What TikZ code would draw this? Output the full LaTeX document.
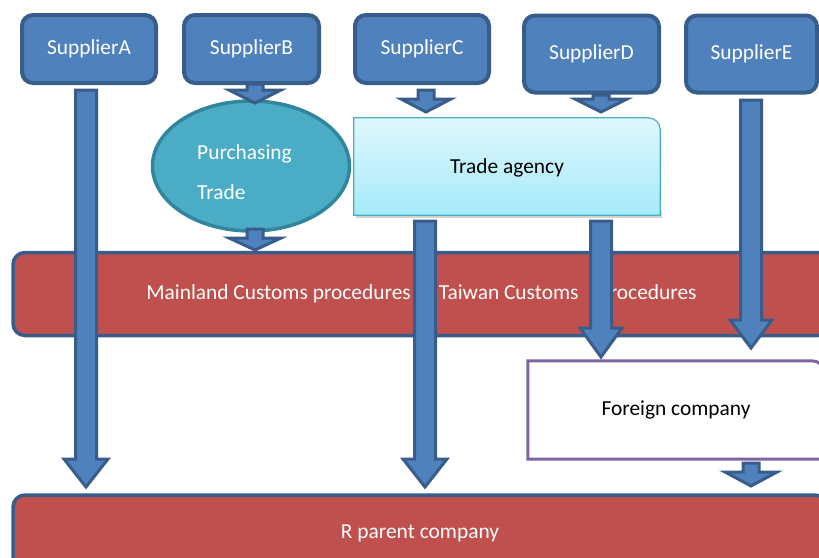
\documentclass[tikz,border=0pt]{standalone}
\usepackage{fontspec}
\setmainfont{Carlito}
\usetikzlibrary{shapes.geometric,calc}
\definecolor{supfill}{HTML}{4F81BD}
\definecolor{supline}{HTML}{385D8A}
\definecolor{ellfill}{HTML}{4BACC6}
\definecolor{ellline}{HTML}{31859C}
\definecolor{barfill}{HTML}{C0504D}
\definecolor{tatop}{HTML}{E0F7FD}
\definecolor{tabot}{HTML}{A5EAFA}
\definecolor{forline}{HTML}{8064A2}
\tikzset{
  supplier/.style={rectangle, rounded corners=11pt, fill=supfill, draw=supline, line width=4pt,
    text=white, inner sep=0pt, minimum width=134pt, minimum height=68pt},
  custbar/.style={rectangle, rounded corners=12pt, fill=barfill, draw=supline, line width=3.5pt,
    text=white, inner sep=0pt},
  blockarrow/.style={fill=supfill, draw=supline, line width=3pt, line join=miter},
}
\newcommand{\blockarrow}[5]{%
  \draw[blockarrow] let \p1=(#1), \p2=(#2) in
    (\x1-#3pt,\y1) -- (\x1-#3pt,\y2+#5pt) -- (\x1-#4pt,\y2+#5pt) -- (\x1,\y2)
    -- (\x1+#4pt,\y2+#5pt) -- (\x1+#3pt,\y2+#5pt) -- (\x1+#3pt,\y1) -- cycle;}

\begin{document}
\begin{tikzpicture}[x=1pt, y=-1pt, font=\fontsize{21.4}{25}\selectfont]
  \useasboundingbox (0,0) rectangle (819,557);
  \clip (0,0) rectangle (819,557);

  \node[supplier]                                (SupA) at (89,49)    {SupplierA};
  \node[supplier, minimum width=135pt]           (SupB) at (251.5,49) {SupplierB};
  \node[supplier]                                (SupC) at (422,49)   {SupplierC};
  \node[supplier, minimum width=135pt, minimum height=77pt] (SupD) at (591.5,54) {SupplierD};
  \node[supplier, minimum width=131pt, minimum height=77pt] (SupE) at (751.5,54) {SupplierE};

  \node[rectangle, inner sep=0pt, minimum width=306pt, minimum height=97pt] (TA) at (507,166.5) {};
  \fill[gray!35] ([shift={(2,3)}]TA.south west) rectangle ([shift={(2,-4)}]TA.south east);
  \draw[draw=ellfill, line width=1.2pt, top color=tatop, bottom color=tabot]
    (TA.south west) -- (TA.north west) -- ([xshift=-12pt]TA.north east)
    arc[start angle=90, end angle=0, radius=12pt] -- (TA.south east) -- cycle;
  \node (TAtext) at ([yshift=-1.5pt]TA.center) {Trade agency};

  \node[ellipse, fill=ellfill, draw=ellline, line width=3.5pt, inner sep=0pt,
        minimum width=197pt, minimum height=130pt] (PT) at (251,166) {};
  \node[anchor=west, inner sep=0pt, text=white, align=left] (PTtext) at (197,172)
        {Purchasing\\[15pt]Trade};

  \node[custbar, minimum width=817pt, minimum height=83pt] (Cust) at (421.5,294)
    {Mainland Customs procedures\hspace{28pt}Taiwan Customs\hspace{20pt}procedures};

  \node[rectangle, inner sep=0pt, minimum width=296pt, minimum height=98pt] (For) at (676,410) {};
  \draw[draw=forline, line width=3pt, fill=white]
    (For.south west) -- (For.north west) -- ([xshift=-12pt]For.north east)
    arc[start angle=90, end angle=0, radius=12pt] -- (For.south east) -- cycle;
  \node (Fortext) at (For.center) {Foreign company};

  \node[custbar, minimum width=814pt, minimum height=76pt] (RP) at (420,533) {R parent company};

  \coordinate (aA1) at (86,90);   \coordinate (aA2) at (86,487);
  \coordinate (aB1) at (255,84);  \coordinate (aB2) at (255,103);
  \coordinate (aP1) at (255,229); \coordinate (aP2) at (255,250);
  \coordinate (aC1) at (426,90);  \coordinate (aC2) at (426,112);
  \coordinate (aD1) at (601,95);  \coordinate (aD2) at (601,112);
  \coordinate (aT1) at (425,221); \coordinate (aT2) at (425,487);
  \coordinate (aU1) at (601,221); \coordinate (aU2) at (601,357);
  \coordinate (aE1) at (751,100); \coordinate (aE2) at (751,348);
  \coordinate (aF1) at (751,463); \coordinate (aF2) at (751,486);

  \blockarrow{aA1}{aA2}{10.5}{22}{28}
  \blockarrow{aB1}{aB2}{8}{26}{13}
  \blockarrow{aP1}{aP2}{8}{26}{12}
  \blockarrow{aC1}{aC2}{8}{25}{13}
  \blockarrow{aD1}{aD2}{8}{26}{13}
  \blockarrow{aT1}{aT2}{10.5}{22}{28}
  \blockarrow{aU1}{aU2}{10.5}{21}{29}
  \blockarrow{aE1}{aE2}{10.5}{21}{28}
  \blockarrow{aF1}{aF2}{8}{26}{14}
\end{tikzpicture}
\end{document}
